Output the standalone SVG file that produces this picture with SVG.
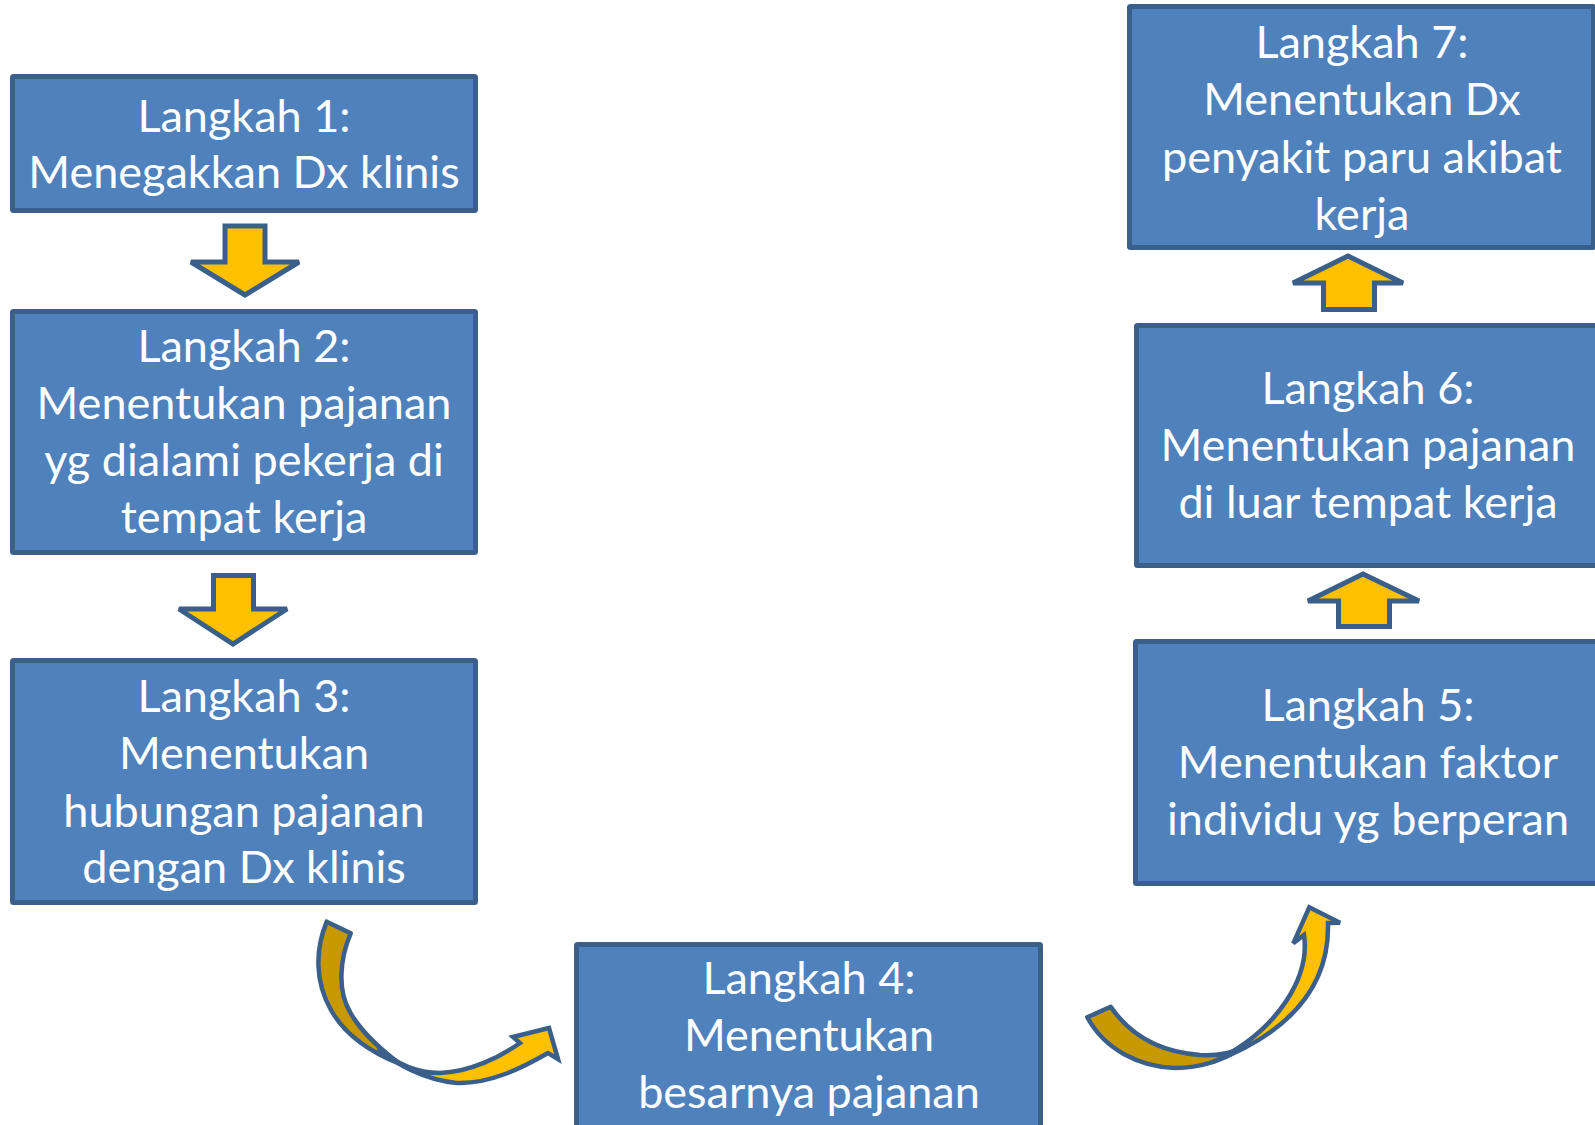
<svg xmlns="http://www.w3.org/2000/svg" width="1595" height="1125" viewBox="0 0 1595 1125">
<style>
.box{fill:#4F81BD;stroke:#3A5F8B;stroke-width:5}
.t{font-family:Lato,"Liberation Sans",sans-serif;font-size:45px;fill:#FFFFFF;text-anchor:middle}
.arr{fill:#FFC000;stroke:#3A5F8B;stroke-width:5;stroke-linejoin:miter;stroke-miterlimit:3}
.back{fill:#C89800;stroke:#3A5F8B;stroke-width:4.5;stroke-linejoin:round}
.front{fill:#FFC000;stroke:#3A5F8B;stroke-width:4.5;stroke-linejoin:miter;stroke-miterlimit:3}
</style>
<rect width="1595" height="1125" fill="#FFFFFF"/>
<g id="connectors">
<polygon class="arr" points="225,226 265,226 265,262 299,262 245,295 191,262 225,262"/>
<polygon class="arr" points="213.5,575.5 253.5,575.5 253.5,609 287,609 233,644 179,609 213.5,609"/>
<polygon class="arr" points="1348,256 1403,283 1374.5,283 1374.5,309.5 1323.5,309.5 1323.5,283 1293,283"/>
<polygon class="arr" points="1363,574 1419,601 1389.5,601 1389.5,626.5 1338.5,626.5 1338.5,601 1308,601"/>
<g id="curve-3-4">
<path class="back" d="M326.7,921.7 L350.7,933.3 C340,958 337,990 350,1012 C360,1030 375,1045 400,1064 C370,1052 345,1035 331,1010 C315,982 315,950 326.7,921.7 Z"/>
<path class="front" d="M378,1048 C395,1064 425,1080 457,1083 C490,1084 522,1068 548,1053 L558,1059 L549,1028 L513,1037 L520,1043 C500,1057 470,1072 440,1073 C415,1073 395,1063 378,1048 Z"/>
</g>
<g id="curve-4-5">
<path class="back" d="M1087.3,1017.3 L1110.7,1006.7 C1130,1035 1160,1052 1200,1055 C1220,1056 1235,1052 1242,1047 C1225,1060 1200,1068 1175,1068 C1140,1067 1105,1050 1087.3,1017.3 Z"/>
<path class="front" d="M1213,1062 C1270,1040 1330,1000 1328,923 L1340,922.7 L1309.3,907.3 L1293.3,943.3 L1304,935 C1310,975 1280,1030 1213,1062 Z"/>
</g>
</g>
<g id="step1">
<rect class="box" x="12.5" y="76.5" width="463" height="134" rx="1"/>
<text class="t" x="244" y="132">Langkah 1:</text>
<text class="t" x="244" y="188">Menegakkan Dx klinis</text>
</g>
<g id="step2">
<rect class="box" x="12.5" y="311.5" width="463" height="241" rx="1"/>
<text class="t" x="244" y="362">Langkah 2:</text>
<text class="t" x="244" y="419">Menentukan pajanan</text>
<text class="t" x="244" y="476">yg dialami pekerja di</text>
<text class="t" x="244" y="533">tempat kerja</text>
</g>
<g id="step3">
<rect class="box" x="12.5" y="660.5" width="463" height="242" rx="1"/>
<text class="t" x="244" y="712">Langkah 3:</text>
<text class="t" x="244" y="769">Menentukan</text>
<text class="t" x="244" y="827">hubungan pajanan</text>
<text class="t" x="244" y="883">dengan Dx klinis</text>
</g>
<g id="step4">
<rect class="box" x="576.5" y="944.5" width="464" height="200" rx="1"/>
<text class="t" x="809" y="994">Langkah 4:</text>
<text class="t" x="809" y="1051">Menentukan</text>
<text class="t" x="809" y="1108">besarnya pajanan</text>
</g>
<g id="step5">
<rect class="box" x="1135.5" y="641.5" width="464" height="242" rx="1"/>
<text class="t" x="1368" y="721">Langkah 5:</text>
<text class="t" x="1368" y="778">Menentukan faktor</text>
<text class="t" x="1368" y="835">individu yg berperan</text>
</g>
<g id="step6">
<rect class="box" x="1136.5" y="325.5" width="464" height="240" rx="1"/>
<text class="t" x="1368" y="404">Langkah 6:</text>
<text class="t" x="1368" y="461">Menentukan pajanan</text>
<text class="t" x="1368" y="518">di luar tempat kerja</text>
</g>
<g id="step7">
<rect class="box" x="1129.5" y="6.5" width="464" height="241" rx="1"/>
<text class="t" x="1362" y="58">Langkah 7:</text>
<text class="t" x="1362" y="115">Menentukan Dx</text>
<text class="t" x="1362" y="173">penyakit paru akibat</text>
<text class="t" x="1362" y="230">kerja</text>
</g>
</svg>
